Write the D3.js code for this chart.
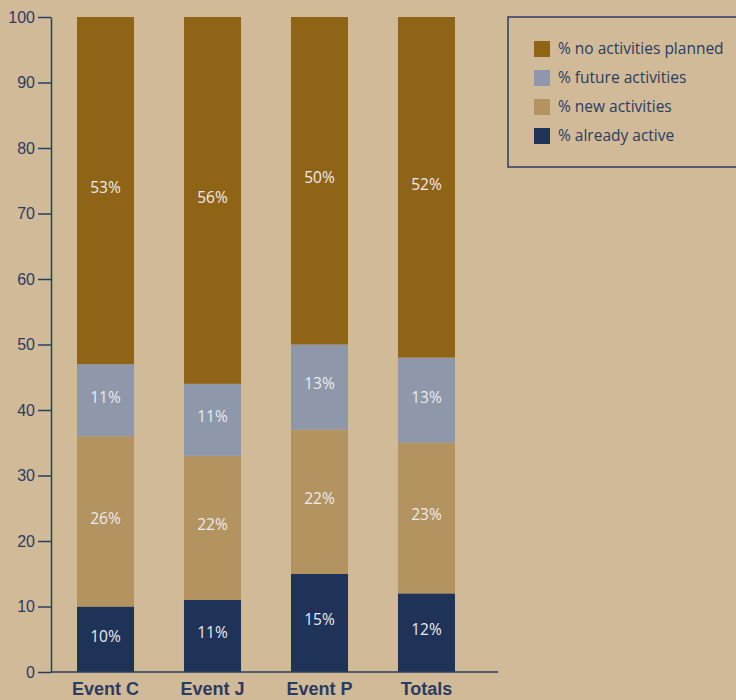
<!DOCTYPE html>
<html>
<head>
<meta charset="utf-8">
<script src="https://cdn.jsdelivr.net/npm/d3@7"></script>
<style>
  body { margin: 0; background: #d1ba98; }
  svg { display: block; font-family: "Open Sans", sans-serif; }
</style>
</head>
<body>
<div id="canvas"></div>
<script>
// data
const categories = ["Event C", "Event J", "Event P", "Totals"];
const seriesNames = ["% already active", "% new activities", "% future activities", "% no activities planned"];
const alreadyActive = [10, 11, 15, 12];
const newActivities = [26, 22, 22, 23];
const futureActivities = [11, 11, 13, 13];
const noActivities = [53, 56, 50, 52];
const yTicks = [0, 10, 20, 30, 40, 50, 60, 70, 80, 90, 100];
const colors = ["#1f3257", "#b3935f", "#8e98aa", "#906417"];

const width = 736, height = 700;
const textColor = "#2b3c62";

const svg = d3.select("#canvas").append("svg")
  .attr("width", width).attr("height", height);

svg.append("rect").attr("width", width).attr("height", height).attr("fill", "#d1ba98");

const rows = categories.map((c, i) => ({
  name: c,
  "% already active": alreadyActive[i],
  "% new activities": newActivities[i],
  "% future activities": futureActivities[i],
  "% no activities planned": noActivities[i]
}));

const stack = d3.stack().keys(seriesNames)(rows);

const x = d3.scaleBand()
  .domain(categories)
  .range([51, 481])
  .paddingInner(0.467)
  .paddingOuter(0.243);

const y = d3.scaleLinear()
  .domain([0, 100])
  .range([672, 17]);

// bars
const layers = svg.append("g").selectAll("g").data(stack)
  .enter().append("g")
  .attr("fill", (d, i) => colors[i]);

layers.selectAll("rect").data(d => d)
  .enter().append("rect")
  .attr("x", d => x(d.data.name))
  .attr("y", d => y(d[1]))
  .attr("width", x.bandwidth())
  .attr("height", d => y(d[0]) - y(d[1]));

// value labels
layers.selectAll("text").data(d => d)
  .enter().append("text")
  .attr("x", d => x(d.data.name) + x.bandwidth() / 2)
  .attr("y", d => (y(d[0]) + y(d[1])) / 2)
  .attr("dy", "0.15em")
  .attr("text-anchor", "middle")
  .attr("fill", "#ecebf0")
  .style("font-size", "15.5px")
  .text(d => (d[1] - d[0]) + "%");

// y axis
const yAxis = svg.append("g")
  .attr("transform", "translate(51,0)")
  .call(d3.axisLeft(y).tickValues(yTicks).tickSize(13).tickSizeOuter(0).tickPadding(3));
yAxis.select(".domain").attr("stroke", textColor).attr("stroke-width", 1.5);
yAxis.selectAll(".tick line").attr("stroke", textColor).attr("stroke-width", 1.5);
yAxis.selectAll(".tick text").attr("fill", textColor).style("font-size", "16px");

// x axis
const xAxis = svg.append("g")
  .attr("transform", "translate(0,672)")
  .call(d3.axisBottom(x).tickSize(0).tickPadding(10));
xAxis.select(".domain").attr("d", "M51,0H498").attr("stroke", textColor).attr("stroke-width", 1.5);
xAxis.selectAll(".tick text").attr("fill", textColor)
  .style("font-size", "18px").style("font-weight", "bold");

// legend
const legend = svg.append("g");
legend.append("rect")
  .attr("x", 508).attr("y", 17).attr("width", 240).attr("height", 150)
  .attr("fill", "none").attr("stroke", textColor).attr("stroke-width", 1.5);

const legendOrder = seriesNames.slice().reverse();
const legendY = d3.scalePoint().domain(legendOrder).range([49, 136]);

const items = legend.selectAll("g.item").data(legendOrder)
  .enter().append("g").attr("class", "item");
items.append("rect")
  .attr("x", 534).attr("y", d => legendY(d) - 8)
  .attr("width", 16).attr("height", 16)
  .attr("fill", d => colors[seriesNames.indexOf(d)]);
items.append("text")
  .attr("x", 558).attr("y", d => legendY(d))
  .attr("dy", "0.35em")
  .attr("fill", textColor)
  .style("font-size", "15.5px")
  .text(d => d);
</script>
</body>
</html>
